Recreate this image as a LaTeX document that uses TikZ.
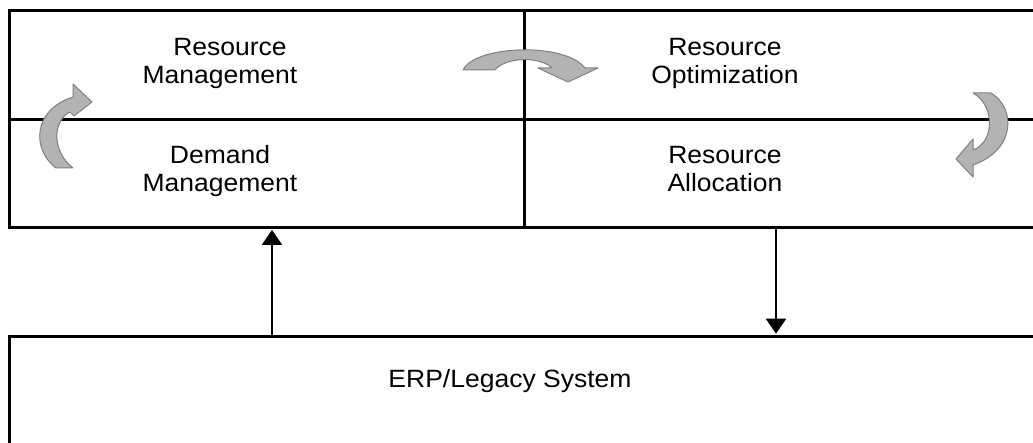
\documentclass[tikz,border=0pt]{standalone}
\usepackage{fontspec}
\setmainfont{Liberation Sans}[FakeStretch=1.06]
\usetikzlibrary{arrows.meta}

\definecolor{arrowfill}{HTML}{B3B3B3}
\definecolor{arrowedge}{HTML}{808080}

\begin{document}
\begin{tikzpicture}[x=1pt,y=-1pt,
  cell/.style={draw=black, line width=2.6pt, rectangle, inner sep=0pt,
               anchor=north west, minimum width=#1},
  cell/.default=515pt,
  celltext/.style={font=\fontsize{25}{28}\selectfont, align=center, inner sep=0pt},
  link/.style={draw=black, line width=2pt, -{Triangle[width=20pt,length=15pt]},
               shorten >=1.3pt},
  cycle arrow/.style={fill=arrowfill, draw=arrowedge, line width=1pt, line join=round}]

\useasboundingbox (0,0) rectangle (1033,443);
\clip (0,0) rectangle (1033,443);

% upper block: four cells
\node[cell, minimum height=109pt] (rm) at (8,9) {};
\node[cell=522pt, minimum height=109pt] (ro) at (523,9) {};
\node[cell, minimum height=108pt] (dm) at (8,118) {};
\node[cell=522pt, minimum height=108pt] (ra) at (523,118) {};

% lower block
\node[cell=1037pt, minimum height=125pt] (erp) at (8,335) {};

% cell texts
\node[celltext] (trm) at (220,63) {\hspace*{20pt}Resource\\Management};
\node[celltext] (tdm) at (220,171) {Demand\\Management};
\node[celltext] (tro) at (725,63) {Resource\\Optimization};
\node[celltext] (tra) at (725,169) {Resource\\Allocation};
\node[celltext, anchor=base] (terp) at (510,388) {ERP/Legacy System};

% data flow between the blocks
\coordinate (upx) at (272,0);
\coordinate (dnx) at (776,0);
\draw[link] (erp.north -| upx) -- (dm.south -| upx);
\draw[link] (ra.south -| dnx) -- (erp.north -| dnx);

% circular process arrows
\path[cycle arrow] (463,70) .. controls (475,45) and (565,42) .. (585,68)
  -- (598,68) -- (568,82) -- (538,68) -- (552,68)
  .. controls (540,56) and (505,57) .. (495,70) -- cycle;

\path[cycle arrow] (973,93) -- (991,93)
  .. controls (1016,108) and (1016,150) .. (973,165)
  -- (973,177) -- (956,159) -- (973,139) -- (973,150)
  .. controls (995,142) and (995,105) .. (973,93) -- cycle;

\path[cycle arrow] (56,168) .. controls (32,150) and (32,110) .. (73,97)
  -- (73,84) -- (92,102) -- (74,116) -- (70,112)
  .. controls (54,119) and (50,150) .. (73,168) -- cycle;

\end{tikzpicture}
\end{document}
